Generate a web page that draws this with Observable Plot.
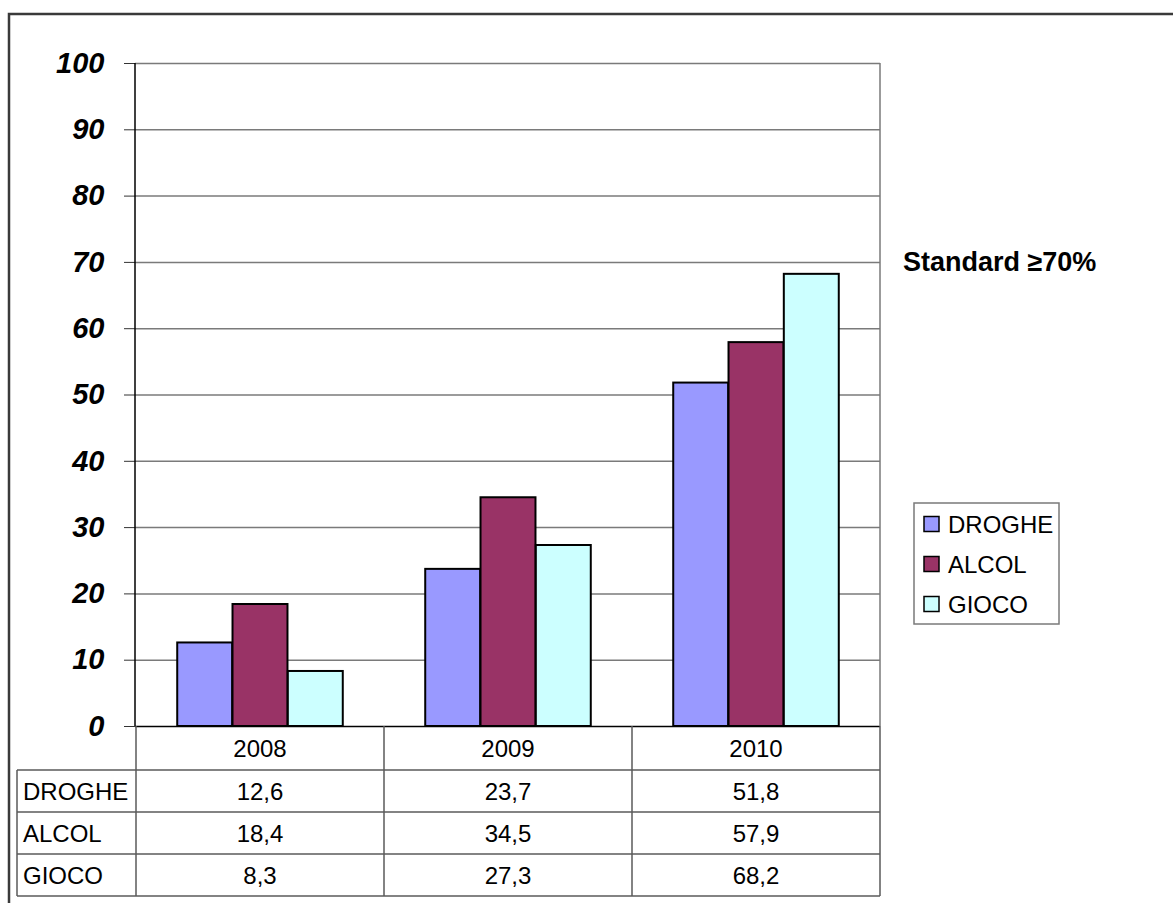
<!DOCTYPE html>
<html>
<head>
<meta charset="utf-8">
<script src="https://cdn.jsdelivr.net/npm/d3@7"></script>
<script src="https://cdn.jsdelivr.net/npm/@observablehq/plot@0.6"></script>
<style>
  html, body { margin: 0; padding: 0; background: #fff; }
  #chart svg { display: block; }
</style>
</head>
<body>
<div id="chart"></div>
<script>
// Categories and series
const years = ["2008", "2009", "2010"];
const series = ["DROGHE", "ALCOL", "GIOCO"];
const drogheValues = [12.6, 23.7, 51.8];
const alcolValues = [18.4, 34.5, 57.9];
const giocoValues = [8.3, 27.3, 68.2];
const seriesColors = ["#9999FF", "#993366", "#CCFFFF"];
const yTicks = [0, 10, 20, 30, 40, 50, 60, 70, 80, 90, 100];
const standardLabel = "Standard \u226570%";

const seriesValues = [drogheValues, alcolValues, giocoValues];
const rows = series.flatMap((s, i) =>
  years.map((y, j) => ({ year: y, series: s, value: seriesValues[i][j] }))
);
const fmt = v => v.toFixed(1).replace(".", ",");

const W = 1173, H = 903;
const M = { top: 63, right: 293, bottom: 177, left: 135 };
const FONT = "'Liberation Sans', Arial, Helvetica, sans-serif";

// Bars of one year cluster fill the middle two thirds of the year band
const step = (W - M.left - M.right) / years.length;
const groupW = step * 0.668;
const gapW = (step - groupW) / 2;
const barW = groupW / series.length;

const barMarks = series.map((s, i) =>
  Plot.barY(rows.filter(d => d.series === s), {
    x: "year",
    y: "value",
    fill: "series",
    stroke: "#000",
    strokeWidth: 2,
    insetLeft: gapW + i * barW,
    insetRight: gapW + (series.length - 1 - i) * barW
  })
);

const chart = Plot.plot({
  width: W,
  height: H,
  marginTop: M.top,
  marginRight: M.right,
  marginBottom: M.bottom,
  marginLeft: M.left,
  style: { fontFamily: FONT, background: "transparent", overflow: "visible" },
  x: { domain: years, padding: 0, axis: null },
  y: { domain: [0, 100], axis: null, label: null },
  color: { domain: series, range: seriesColors },
  marks: [
    Plot.ruleY(yTicks.filter(d => d > 0), { stroke: "#7a7a7a", strokeWidth: 1.5 }),
    ...barMarks,
    Plot.ruleY([0], { stroke: "#000", strokeWidth: 1.5 }),
    Plot.axisY({
      ticks: yTicks,
      label: null,
      tickSize: 11,
      tickPadding: 20,
      stroke: "#333",
      fontSize: 29,
      fontWeight: "bold",
      fontStyle: "italic",
      fill: "#000",
      tickFormat: d => String(d)
    })
  ]
});

document.getElementById("chart").appendChild(chart);

// Axis frame, data table, annotation and legend drawn with the plot's scales
const xs = chart.scale("x");
const ys = chart.scale("y");
const svg = d3.select(chart);
const yZero = ys.apply(0);
const yTop = ys.apply(100);
const xLeft = xs.range[0];
const xRight = xs.range[1];
const edges = years.map(y => xs.apply(y)).concat([xRight]);

const tableLeft = 17;
const headerH = 44;
const rowH = 42;
const tableBottom = yZero + headerH + rowH * series.length;
const lineColor = "#5a5a5a";

const g = svg.append("g")
  .attr("font-family", FONT)
  .attr("text-anchor", "start");

// Outer border
g.append("rect")
  .attr("x", 9).attr("y", 14)
  .attr("width", W + 40).attr("height", H + 40)
  .attr("fill", "none").attr("stroke", "#3a3a3a").attr("stroke-width", 2.5);

// Right border of the plot area
g.append("line")
  .attr("x1", xRight).attr("x2", xRight)
  .attr("y1", yTop).attr("y2", yZero)
  .attr("stroke", "#7a7a7a").attr("stroke-width", 1.5);

// Value axis line
g.append("line")
  .attr("x1", xLeft).attr("x2", xLeft)
  .attr("y1", yTop).attr("y2", yZero)
  .attr("stroke", "#000").attr("stroke-width", 1.5);

// Table grid
edges.forEach(x => {
  g.append("line")
    .attr("x1", x).attr("x2", x)
    .attr("y1", yZero).attr("y2", tableBottom)
    .attr("stroke", lineColor).attr("stroke-width", 1.5);
});
g.append("line")
  .attr("x1", tableLeft).attr("x2", tableLeft)
  .attr("y1", yZero + headerH).attr("y2", tableBottom)
  .attr("stroke", lineColor).attr("stroke-width", 1.5);
for (let k = 0; k <= series.length; k++) {
  const yy = yZero + headerH + k * rowH;
  g.append("line")
    .attr("x1", tableLeft).attr("x2", xRight)
    .attr("y1", yy).attr("y2", yy)
    .attr("stroke", lineColor).attr("stroke-width", 1.5);
}

// Header row: the years
years.forEach(y => {
  g.append("text")
    .attr("x", xs.apply(y) + xs.bandwidth / 2)
    .attr("y", yZero + headerH / 2)
    .attr("dy", "0.36em")
    .attr("text-anchor", "middle")
    .attr("font-size", 24)
    .attr("fill", "#000")
    .text(y);
});

// Data rows
series.forEach((s, i) => {
  const cy = yZero + headerH + i * rowH + rowH / 2;
  g.append("text")
    .attr("x", tableLeft + 6)
    .attr("y", cy)
    .attr("dy", "0.36em")
    .attr("text-anchor", "start")
    .attr("font-size", 24)
    .attr("fill", "#000")
    .text(s);
  years.forEach((y, j) => {
    g.append("text")
      .attr("x", xs.apply(y) + xs.bandwidth / 2)
      .attr("y", cy)
      .attr("dy", "0.36em")
      .attr("text-anchor", "middle")
      .attr("font-size", 24)
      .attr("fill", "#000")
      .text(fmt(seriesValues[i][j]));
  });
});

// Target annotation
g.append("text")
  .attr("x", 903).attr("y", 271)
  .attr("text-anchor", "start")
  .attr("font-size", 27)
  .attr("font-weight", "bold")
  .attr("fill", "#000")
  .text(standardLabel);

// Legend
const color = chart.scale("color");
const lg = g.append("g").attr("transform", "translate(914,503)");
lg.append("rect")
  .attr("width", 145).attr("height", 121)
  .attr("fill", "#fff").attr("stroke", "#7a7a7a").attr("stroke-width", 1.5);
series.forEach((s, i) => {
  const cy = 21 + i * 40;
  lg.append("rect")
    .attr("x", 10).attr("y", cy - 7.5)
    .attr("width", 15).attr("height", 15)
    .attr("fill", color.apply(s))
    .attr("stroke", "#000").attr("stroke-width", 1.5);
  lg.append("text")
    .attr("x", 34).attr("y", cy)
    .attr("dy", "0.36em")
    .attr("text-anchor", "start")
    .attr("font-size", 24)
    .attr("fill", "#000")
    .text(s);
});
</script>
</body>
</html>
